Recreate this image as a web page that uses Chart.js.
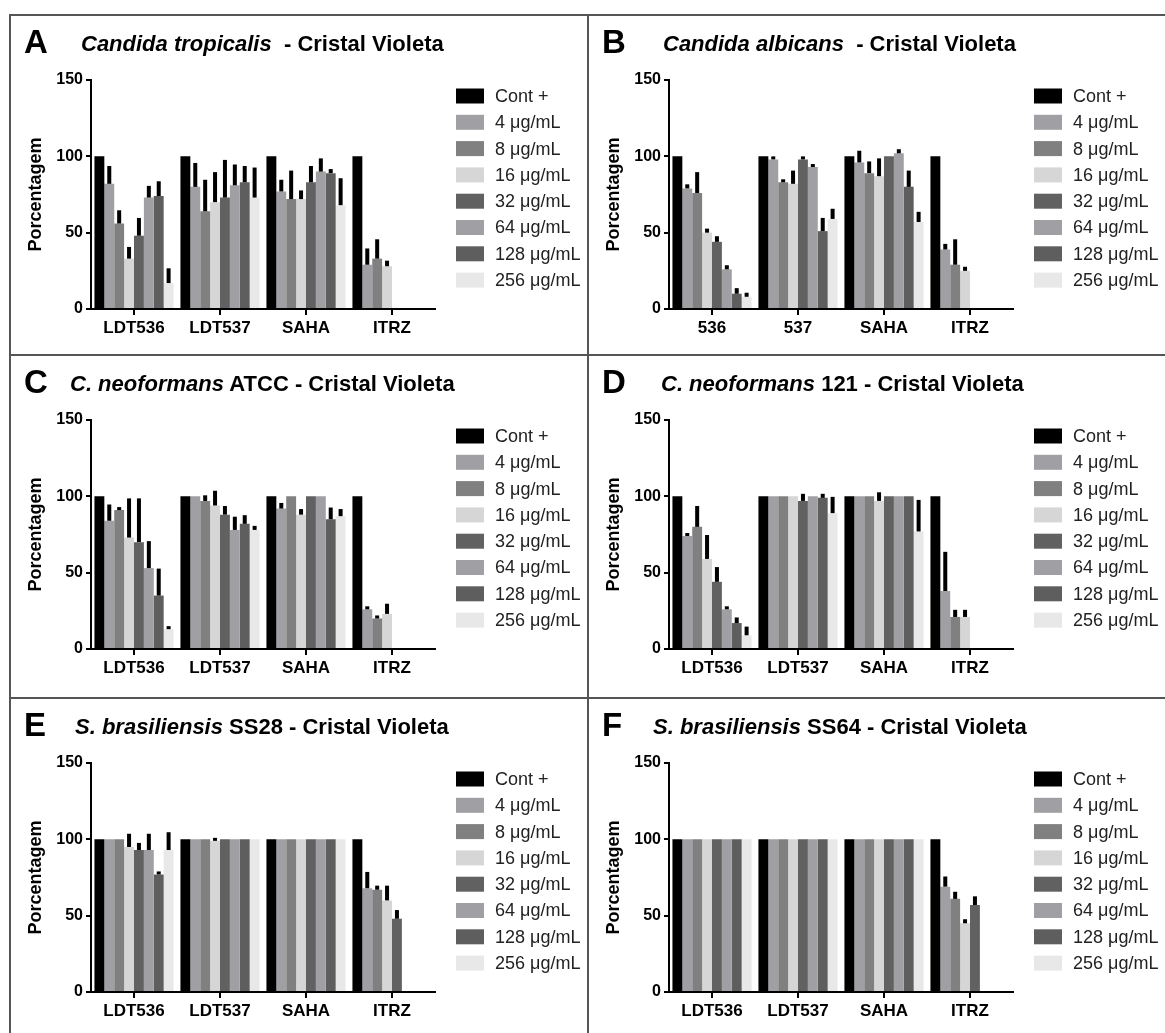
<!DOCTYPE html>
<html>
<head>
<meta charset="utf-8">
<script src="https://cdn.jsdelivr.net/npm/chart.js@4.4.1/dist/chart.umd.min.js"></script>
<style>
  body { margin: 0; background: #fff; font-family: "Liberation Sans", Arial, sans-serif; }
  #fig { position: relative; width: 1165px; height: 1033px; overflow: hidden; background: #fff; }
  .line { position: absolute; background: #555; }
  .panel { position: absolute; width: 577px; height: 340px; }
  .panel canvas { position: absolute; left: 0; top: 0; }
  .letter { position: absolute; left: 14px; top: 10px; font-size: 33px; font-weight: bold; line-height: 33px; color: #000; }
  .title { position: absolute; top: 18px; font-size: 22px; font-weight: bold; line-height: 22px; white-space: pre; color: #000; }
</style>
</head>
<body>
<div id="fig">
  <div class="line" style="left:10px;top:14px;width:1155px;height:2px"></div>
  <div class="line" style="left:9px;top:14px;width:2px;height:1019px"></div>
  <div class="line" style="left:587px;top:14px;width:2px;height:1019px"></div>
  <div class="line" style="left:10px;top:354px;width:1155px;height:2px"></div>
  <div class="line" style="left:10px;top:697px;width:1155px;height:2px"></div>
</div>
<script>
  // series: Cont +, then the concentrations
  const concentrations = ["Cont +", "4 μg/mL", "8 μg/mL", "16 μg/mL", "32 μg/mL", "64 μg/mL", "128 μg/mL", "256 μg/mL"];
  const seriesColors = ["#000000", "#a0a0a4", "#808080", "#d6d6d6", "#616161", "#a0a0a4", "#5e5e5e", "#e8e8e8"];

  const categoriesLDT = ["LDT536", "LDT537", "SAHA", "ITRZ"];
  const categoriesShort = ["536", "537", "SAHA", "ITRZ"];
  const yTicks = [0, 50, 100, 150];

  // each row = one concentration, each column = one compound
  const valuesA = [
    [100, 100, 100, 100],
    [82, 80, 77, 29],
    [56, 64, 72, 33],
    [33, 70, 72, 28],
    [48, 73, 83, 0],
    [73, 81, 90, 0],
    [74, 83, 89, 0],
    [17, 73, 68, 0]
  ];
  const errorsA = [
    [0, 0, 0, 0],
    [11, 15, 7, 10],
    [8, 20, 18, 12],
    [7, 19, 5, 3],
    [11, 24, 10, 0],
    [7, 13, 8, 0],
    [9, 10, 2, 0],
    [9, 19, 17, 0]
  ];

  const valuesB = [
    [100, 100, 100, 100],
    [79, 98, 96, 39],
    [76, 83, 89, 29],
    [50, 82, 87, 25],
    [44, 98, 100, 0],
    [26, 93, 102, 0],
    [10, 51, 80, 0],
    [8, 59, 57, 0]
  ];
  const errorsB = [
    [0, 0, 0, 0],
    [2, 1, 7, 3],
    [13, 1, 7, 16],
    [2, 8, 11, 2],
    [3, 1, 0, 0],
    [2, 1, 2, 0],
    [3, 8, 10, 0],
    [2, 6, 6, 0]
  ];

  const valuesC = [
    [100, 100, 100, 100],
    [84, 100, 92, 26],
    [91, 97, 100, 20],
    [73, 94, 88, 23],
    [70, 88, 100, 0],
    [53, 78, 100, 0],
    [35, 82, 85, 0],
    [13, 78, 87, 0]
  ];
  const errorsC = [
    [0, 0, 0, 0],
    [10, 0, 3, 1],
    [1, 3, 0, 1],
    [25, 9, 3, 6],
    [28, 5, 0, 0],
    [17, 8, 0, 0],
    [17, 5, 7, 0],
    [1, 2, 4, 0]
  ];

  const valuesD = [
    [100, 100, 100, 100],
    [74, 100, 100, 38],
    [80, 100, 100, 21],
    [59, 100, 97, 21],
    [44, 97, 100, 0],
    [26, 100, 100, 0],
    [17, 99, 100, 0],
    [9, 89, 77, 0]
  ];
  const errorsD = [
    [0, 0, 0, 0],
    [1, 0, 0, 25],
    [13, 0, 0, 4],
    [15, 0, 5, 4],
    [9, 4, 0, 0],
    [1, 0, 0, 0],
    [3, 2, 0, 0],
    [5, 10, 20, 0]
  ];

  const valuesE = [
    [100, 100, 100, 100],
    [100, 100, 100, 68],
    [100, 100, 100, 67],
    [95, 99, 100, 60],
    [93, 100, 100, 48],
    [93, 100, 100, 0],
    [77, 100, 100, 0],
    [93, 100, 100, 0]
  ];
  const errorsE = [
    [0, 0, 0, 0],
    [0, 0, 0, 10],
    [0, 0, 0, 2],
    [8, 1, 0, 9],
    [4, 0, 0, 5],
    [10, 0, 0, 0],
    [1, 0, 0, 0],
    [11, 0, 0, 0]
  ];

  const valuesF = [
    [100, 100, 100, 100],
    [100, 100, 100, 69],
    [100, 100, 100, 61],
    [100, 100, 100, 45],
    [100, 100, 100, 57],
    [100, 100, 100, 0],
    [100, 100, 100, 0],
    [100, 100, 100, 0]
  ];
  const errorsF = [
    [0, 0, 0, 0],
    [0, 0, 0, 6],
    [0, 0, 0, 4],
    [0, 0, 0, 2],
    [0, 0, 0, 5],
    [0, 0, 0, 0],
    [0, 0, 0, 0],
    [0, 0, 0, 0]
  ];

  Chart.defaults.font.family = "'Liberation Sans', Arial, sans-serif";
  Chart.defaults.color = "#000";

  const W = 577, H = 335;
  const PLOT_LEFT = 81, PLOT_RIGHT = 425, PLOT_TOP = 65, PLOT_BOTTOM = 294;

  // upward-only error bars (mean + SD), like the GraphPad original
  const errorBars = {
    id: "errorBars",
    afterDatasetsDraw(chart) {
      const ctx = chart.ctx;
      const y = chart.scales.y;
      ctx.save();
      ctx.fillStyle = "#000";
      chart.data.datasets.forEach((ds, i) => {
        const meta = chart.getDatasetMeta(i);
        meta.data.forEach((bar, j) => {
          const err = ds.errors[j];
          if (!err) return;
          const v = ds.data[j];
          const top = y.getPixelForValue(v + err);
          const bottom = y.getPixelForValue(v);
          const h = Math.max(bottom - top, 2);
          ctx.fillRect(bar.x - 2, bottom - h - 1, 4, h + 1);
        });
      });
      ctx.restore();
    }
  };

  // legend on the right, laid out like the original figure
  const sideLegend = {
    id: "sideLegend",
    afterDraw(chart) {
      const ctx = chart.ctx;
      const area = chart.chartArea;
      const x0 = area.right + 21;
      ctx.save();
      ctx.font = "18px 'Liberation Sans', Arial, sans-serif";
      ctx.textBaseline = "middle";
      ctx.textAlign = "left";
      chart.data.datasets.forEach((ds, i) => {
        const cy = area.top + 16 + i * 26.3;
        ctx.fillStyle = ds.backgroundColor;
        ctx.fillRect(x0, cy - 7.5, 28, 15);
        ctx.fillStyle = "#222";
        ctx.fillText(ds.label, x0 + 39, cy + 1);
      });
      ctx.restore();
    }
  };

  function makePanel(left, top, letter, titleHtml, titleX, categories, values, errors) {
    const fig = document.getElementById("fig");
    const panel = document.createElement("div");
    panel.className = "panel";
    panel.style.left = left + "px";
    panel.style.top = top + "px";
    const canvas = document.createElement("canvas");
    canvas.width = W;
    canvas.height = H;
    canvas.style.width = W + "px";
    canvas.style.height = H + "px";
    panel.appendChild(canvas);
    const l = document.createElement("div");
    l.className = "letter";
    l.textContent = letter;
    panel.appendChild(l);
    const t = document.createElement("div");
    t.className = "title";
    t.style.left = titleX + "px";
    t.innerHTML = titleHtml;
    panel.appendChild(t);
    fig.appendChild(panel);

    const datasets = concentrations.map((name, i) => ({
      label: name,
      data: values[i],
      errors: errors[i],
      backgroundColor: seriesColors[i],
      borderWidth: 0,
      categoryPercentage: 0.92,
      barPercentage: 1.0
    }));

    new Chart(canvas, {
      type: "bar",
      data: { labels: categories, datasets },
      options: {
        responsive: false,
        animation: false,
        devicePixelRatio: 1,
        layout: { padding: { top: PLOT_TOP, left: 0, right: W - PLOT_RIGHT, bottom: 0 } },
        plugins: { legend: { display: false }, tooltip: { enabled: false } },
        scales: {
          x: {
            grid: { display: true, offset: false, drawOnChartArea: false, drawTicks: true, tickLength: 6, color: "#000", lineWidth: 2 },
            border: { display: true, color: "#000", width: 2 },
            ticks: { font: { size: 17, weight: "bold" }, color: "#000", padding: 3, maxRotation: 0 },
            afterFit: (s) => { s.height = H - PLOT_BOTTOM; }
          },
          y: {
            min: 0,
            max: 150,
            afterBuildTicks: (s) => { s.ticks = yTicks.map((v) => ({ value: v })); },
            grid: { display: true, drawOnChartArea: false, drawTicks: true, tickLength: 5, color: "#000", lineWidth: 2 },
            border: { display: true, color: "#000", width: 2 },
            ticks: { font: { size: 16, weight: "bold" }, color: "#000", padding: 3 },
            title: { display: true, text: "Porcentagem", font: { size: 18, weight: "bold" }, color: "#000", padding: { top: 15, bottom: 0 } },
            afterFit: (s) => { s.width = PLOT_LEFT; }
          }
        }
      },
      plugins: [errorBars, sideLegend]
    });
  }

  makePanel(10, 15, "A", "<i>Candida tropicalis</i>  - Cristal Violeta", 71, categoriesLDT, valuesA, errorsA);
  makePanel(588, 15, "B", "<i>Candida albicans</i>  - Cristal Violeta", 75, categoriesShort, valuesB, errorsB);
  makePanel(10, 355, "C", "<i>C. neoformans</i> ATCC - Cristal Violeta", 60, categoriesLDT, valuesC, errorsC);
  makePanel(588, 355, "D", "<i>C. neoformans</i> 121 - Cristal Violeta", 73, categoriesLDT, valuesD, errorsD);
  makePanel(10, 698, "E", "<i>S. brasiliensis</i> SS28 - Cristal Violeta", 65, categoriesLDT, valuesE, errorsE);
  makePanel(588, 698, "F", "<i>S. brasiliensis</i> SS64 - Cristal Violeta", 65, categoriesLDT, valuesF, errorsF);
</script>
</body>
</html>
